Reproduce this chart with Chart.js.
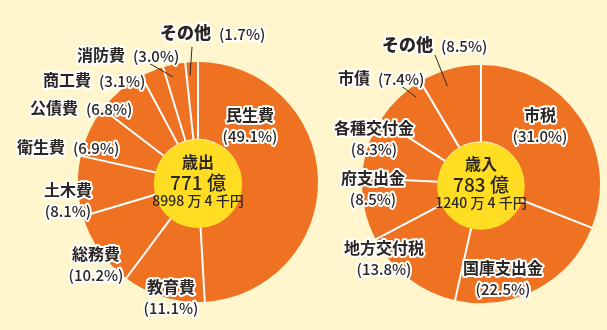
<!DOCTYPE html>
<html><head><meta charset="utf-8">
<script src="https://cdn.jsdelivr.net/npm/chart.js@4.4.0/dist/chart.umd.min.js"></script>
<style>
html,body{margin:0;padding:0;background:#FFF6CE;width:607px;height:330px;overflow:hidden}
canvas{position:absolute;left:0;top:0}
</style></head><body>
<canvas id="c1" width="607" height="330"></canvas>
<canvas id="c2" width="607" height="330"></canvas>
<script>
// ---- data ----
const expenseCategories = ['民生費','教育費','総務費','土木費','衛生費','公債費','商工費','消防費','その他'];
const expenseValues = [49.1, 11.1, 10.2, 8.1, 6.9, 6.8, 3.1, 3.0, 1.7];
const expenseCenter = ['歳出', '771 億', '8998 万 4 千円'];

const revenueCategories = ['市税','国庫支出金','地方交付税','府支出金','各種交付金','市債','その他'];
const revenueValues = [31.0, 22.5, 13.8, 8.5, 8.3, 7.4, 8.5];
const revenueCenter = ['歳入', '783 億', '1240 万 4 千円'];

// ---- label layout (style/positions, separate from data) ----
const expenseLabelLayout = [
  {mode:'stack', x:250, y:115},
  {mode:'stack', x:171, y:287},
  {mode:'stack', x:96,  y:254},
  {mode:'stack', x:68,  y:190},
  {mode:'inline', x:17, y:147},
  {mode:'inline', x:30, y:108},
  {mode:'inline', x:43, y:80},
  {mode:'inline', x:77, y:55, leader:{sx:147, sy:62, f:0.32, r:0.9}},
  {mode:'inline', x:160, y:33, big:true, leader:{sx:192, sy:47, f:0.3, r:0.89}}
];
const revenueLabelLayout = [
  {mode:'stack', x:540, y:115},
  {mode:'stack', x:503, y:268},
  {mode:'stack', x:384, y:248},
  {mode:'stack', x:373, y:178},
  {mode:'stack', x:374, y:128},
  {mode:'inline', x:338, y:78, leader:{sx:400, sy:85, f:0.77, r:0.91}},
  {mode:'inline', x:382, y:45, big:true, leader:{sx:435, sy:55, f:0.38, r:0.87}}
];

const ORANGE = '#EE7222';
const YELLOW = '#FFDD22';
const TEXT = '#2b2623';
const FONT = '"Noto Sans CJK JP","Noto Sans",sans-serif';

function outlinedText(ctx, txt, x, y) {
  ctx.lineJoin = 'round';
  ctx.lineWidth = 4;
  ctx.strokeStyle = '#ffffff';
  ctx.strokeText(txt, x, y);
  ctx.fillStyle = TEXT;
  ctx.fillText(txt, x, y);
}

function makePlugin(categories, values, layout, centerLines) {
  return {
    id: 'decor',
    afterDatasetsDraw(chart) {
      const ctx = chart.ctx;
      const arcs = chart.getDatasetMeta(0).data;
      const cx = arcs[0].x, cy = arcs[0].y;
      const inner = arcs[0].innerRadius, outer = arcs[0].outerRadius;
      ctx.save();
      // separators
      ctx.strokeStyle = '#ffffff';
      ctx.lineWidth = 2;
      arcs.forEach(a => {
        const ang = a.startAngle;
        ctx.beginPath();
        ctx.moveTo(cx + inner * Math.cos(ang), cy + inner * Math.sin(ang));
        ctx.lineTo(cx + (outer + 1) * Math.cos(ang), cy + (outer + 1) * Math.sin(ang));
        ctx.stroke();
      });
      // yellow center
      ctx.fillStyle = YELLOW;
      ctx.beginPath();
      ctx.arc(cx, cy + 2, inner + 1, 0, Math.PI * 2);
      ctx.fill();
      // center text
      ctx.fillStyle = TEXT;
      ctx.textAlign = 'center';
      ctx.textBaseline = 'middle';
      ctx.font = '700 16px ' + FONT;
      ctx.fillText(centerLines[0], cx, cy - 20);
      ctx.font = '500 19px ' + FONT;
      ctx.fillText(centerLines[1], cx, cy + 1);
      ctx.font = '500 14px ' + FONT;
      ctx.fillText(centerLines[2], cx, cy + 19);
      // leaders
      ctx.strokeStyle = TEXT;
      ctx.lineWidth = 1;
      layout.forEach((L, i) => {
        if (!L.leader) return;
        const a = arcs[i];
        const ang = a.startAngle + (a.endAngle - a.startAngle) * L.leader.f;
        const r = a.outerRadius * L.leader.r;
        ctx.beginPath();
        ctx.moveTo(L.leader.sx, L.leader.sy);
        ctx.lineTo(cx + r * Math.cos(ang), cy + r * Math.sin(ang));
        ctx.stroke();
      });
      // labels
      ctx.textBaseline = 'middle';
      layout.forEach((L, i) => {
        const name = categories[i];
        const pct = '(' + values[i].toFixed(1) + '%)';
        const nameFont = (L.big ? '900 17px ' : '700 16px ') + FONT;
        const pctFont = '500 15px ' + FONT;
        if (L.mode === 'stack') {
          ctx.textAlign = 'center';
          ctx.font = nameFont;
          outlinedText(ctx, name, L.x, L.y);
          ctx.font = pctFont;
          outlinedText(ctx, pct, L.x, L.y + 21);
        } else {
          ctx.textAlign = 'left';
          ctx.font = nameFont;
          const w = ctx.measureText(name).width;
          outlinedText(ctx, name, L.x, L.y);
          ctx.font = pctFont;
          outlinedText(ctx, pct, L.x + w + 8, L.y + 1);
        }
      });
      ctx.restore();
    }
  };
}

function makeChart(id, categories, values, layout, centerLines, padding) {
  return new Chart(document.getElementById(id), {
    type: 'doughnut',
    data: {
      labels: categories,
      datasets: [{
        data: values,
        backgroundColor: ORANGE,
        borderWidth: 0
      }]
    },
    options: {
      responsive: false,
      animation: false,
      events: [],
      cutout: '36%',
      layout: { padding: padding },
      plugins: { legend: { display: false }, tooltip: { enabled: false } }
    },
    plugins: [makePlugin(categories, values, layout, centerLines)]
  });
}

makeChart('c1', expenseCategories, expenseValues, expenseLabelLayout, expenseCenter,
  {left: 78, right: 289, top: 62, bottom: 28});
makeChart('c2', revenueCategories, revenueValues, revenueLabelLayout, revenueCenter,
  {left: 362, right: 7, top: 65, bottom: 27});
</script>
</body></html>
